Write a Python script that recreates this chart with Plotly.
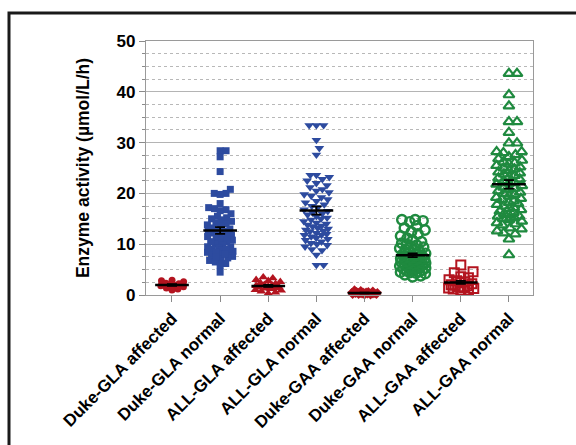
import math
import plotly.graph_objects as go

categories = ["Duke-GLA affected", "Duke-GLA normal", "ALL-GLA affected", "ALL-GLA normal",
              "Duke-GAA affected", "Duke-GAA normal", "ALL-GAA affected", "ALL-GAA normal"]

duke_gla_affected = [2.9, 2.8, 2.6, 2.3, 2.2, 2.0, 1.9, 1.8, 1.6, 1.4, 1.2, 1.0]
duke_gla_normal = [28.4, 28.4, 27.2, 24.3, 20.8, 20.0, 20.0, 19.8, 18.0, 17.2, 17.0, 16.8, 16.6, 16.0,
                   15.5, 15.2, 15.0, 14.8, 14.5, 14.2, 14.0, 13.8, 13.5, 13.2, 13.0, 12.8, 12.5, 12.2,
                   12.0, 11.8, 11.5, 11.2, 11.0, 10.8, 10.5, 10.2, 10.0, 9.8, 9.5, 9.3, 9.0, 8.8, 8.6,
                   8.4, 8.2, 8.0, 7.8, 7.6, 7.3, 7.0, 6.8, 6.5, 6.2, 5.8, 4.5,
                   8.5, 9.0, 7.5, 8.0, 9.5, 10.5, 11.5, 12.5]
all_gla_affected = [3.5, 3.3, 3.0, 2.8, 2.6, 2.4, 2.2, 2.0, 1.9, 1.8, 1.7, 1.6, 1.5, 1.4, 1.3,
                    1.2, 1.0, 0.9, 0.7, 0.5, 0.3]
all_gla_normal = [33.4, 33.4, 33.4, 30.5, 28.9, 27.6, 23.6, 23.6, 23.2, 22.8, 22.5, 22.0, 21.6, 21.2,
                  20.8, 20.5, 20.2, 19.8, 19.5, 19.2, 18.8, 18.5, 18.2, 17.8, 17.5, 17.2, 16.8, 16.5,
                  16.2, 15.8, 15.5, 15.2, 14.8, 14.5, 14.2, 13.8, 13.5, 13.2, 12.8, 12.5, 12.2, 11.8,
                  11.5, 11.0, 10.5, 10.0, 9.5, 7.9, 5.9, 5.9,
                  10.2, 11.2, 12.0, 13.0, 14.0, 15.0, 9.0, 8.8, 10.8, 11.8, 12.6, 13.6, 9.8, 16.0]
duke_gaa_affected = [1.0, 0.9, 0.8, 0.7, 0.7, 0.6, 0.6, 0.5, 0.5, 0.5, 0.4, 0.4, 0.4, 0.3, 0.3,
                     0.3, 0.3, 0.2, 0.2, 0.2, 0.1, 0.1, 0.1, 0.0, 0.0]
duke_gaa_normal = [14.8, 14.8, 14.6, 14.4, 13.6, 13.2, 12.8, 12.4, 12.0, 11.6, 11.2, 10.8, 10.5, 10.2,
                   10.0, 9.8, 9.6, 9.4, 9.2, 9.0, 8.8, 8.6, 8.4, 8.2, 8.0, 7.9, 7.8, 7.7, 7.6, 7.5,
                   7.4, 7.3, 7.2, 7.1, 7.0, 6.9, 6.8, 6.7, 6.6, 6.5, 6.4, 6.3, 6.2, 6.1, 6.0, 5.9,
                   5.8, 5.7, 5.6, 5.5, 5.4, 5.3, 5.2, 5.1, 5.0, 4.9, 4.8, 4.7, 4.6, 4.5, 4.4, 4.3,
                   4.2, 4.0, 3.8, 3.6]
all_gaa_affected = [5.9, 4.6, 4.4, 3.6, 3.4, 3.0, 2.8, 2.6, 2.4, 2.2, 2.0, 1.9, 1.8, 1.6, 1.5,
                    1.4, 1.2, 1.0, 1.0, 1.3]
all_gaa_normal = [43.6, 43.6, 39.4, 37.2, 34.1, 34.1, 32.0, 29.9, 29.9, 28.2, 28.2, 28.0,
                  27.6, 27.2, 26.8, 26.5, 26.2, 25.8, 25.5, 25.2, 24.8, 24.5, 24.2, 23.8, 23.5,
                  23.2, 22.8, 22.5, 22.2, 21.8, 21.5, 21.2, 20.8, 20.5, 20.2, 19.8, 19.5, 19.2,
                  18.8, 18.5, 18.2, 17.8, 17.5, 17.2, 16.8, 16.5, 16.2, 15.8, 15.5, 15.2, 14.8,
                  14.5, 14.2, 13.8, 13.2, 12.6, 12.2, 11.0, 7.9,
                  22.0, 21.0, 20.0, 19.0, 18.0, 17.0, 24.0, 25.0, 16.0, 15.0, 23.0, 26.0,
                  13.0, 14.0, 12.0, 15.5]

groups = [duke_gla_affected, duke_gla_normal, all_gla_affected, all_gla_normal,
          duke_gaa_affected, duke_gaa_normal, all_gaa_affected, all_gaa_normal]

RED = "#b3141f"
BLUE = "#2d4b9f"
GREEN = "#1f8a3f"
styles = [
    dict(symbol="circle", size=7, color=RED, line=dict(width=0)),
    dict(symbol="square", size=7, color=BLUE, line=dict(width=0)),
    dict(symbol="triangle-up", size=8.5, color=RED, line=dict(width=0)),
    dict(symbol="triangle-down", size=8.5, color=BLUE, line=dict(width=0)),
    dict(symbol="diamond", size=7, color=RED, line=dict(width=0)),
    dict(symbol="circle-open", size=9.5, color=GREEN, line=dict(width=2.4)),
    dict(symbol="square-open", size=9, color=RED, line=dict(width=2)),
    dict(symbol="triangle-up-open", size=9.5, color=GREEN, line=dict(width=2.2)),
]

W, H = 576, 445
ML, MR, MT, MB = 146, 43, 41, 150
XR = [-0.54, 7.5]
YR = [0, 50]
pw, ph = W - ML - MR, H - MT - MB
px_cat = pw / (XR[1] - XR[0])
px_val = ph / (YR[1] - YR[0])


def swarm(values, diam, maxhalf):
    order = sorted(range(len(values)), key=lambda i: values[i])
    placed = []
    offs = [0.0] * len(values)
    for i in order:
        y = values[i] * px_val
        d = diam
        while True:
            cands = [0.0]
            near = []
            for (px, py) in placed:
                dy = abs(py - y)
                if dy < d:
                    dx = math.sqrt(d * d - dy * dy)
                    near.append((px, py))
                    cands += [px + dx + 1e-6, px - dx - 1e-6]
            cands.sort(key=lambda c: (abs(c), -c))
            chosen = None
            for c in cands:
                if abs(c) > maxhalf:
                    continue
                ok = all((c - px) ** 2 + (y - py) ** 2 >= (d - 1e-3) ** 2 for (px, py) in near)
                if ok:
                    chosen = c
                    break
            if chosen is not None:
                break
            d *= 0.85
        placed.append((chosen, y))
        offs[i] = chosen / px_cat
    return offs


fig = go.Figure()
for k, vals in enumerate(groups):
    st = styles[k]
    offs = swarm(vals, st["size"] * 0.85, 13)
    fig.add_trace(go.Scatter(
        x=[k + o for o in offs], y=vals, mode="markers",
        marker=dict(symbol=st["symbol"], size=st["size"], color=st["color"], line=st["line"]),
        cliponaxis=False, showlegend=False, hoverinfo="y"))

for k, vals in enumerate(groups):
    n = len(vals)
    m = sum(vals) / n
    sd = math.sqrt(sum((v - m) ** 2 for v in vals) / (n - 1))
    sem = sd / math.sqrt(n)
    fig.add_trace(go.Scatter(x=[k - 0.35, k + 0.35], y=[m, m], mode="lines",
                             line=dict(color="black", width=2.5), cliponaxis=False,
                             showlegend=False, hoverinfo="skip"))
    fig.add_trace(go.Scatter(x=[k], y=[m], mode="markers", marker=dict(size=1, color="rgba(0,0,0,0)"),
                             error_y=dict(type="data", array=[sem], color="black", thickness=1.8, width=5),
                             cliponaxis=False, showlegend=False, hoverinfo="skip"))

font_family = "Liberation Sans, Arial, sans-serif"

# outer frame of the figure
fx0 = (9 - ML) / pw
fy1 = (H - MB - 13) / ph
fig.add_shape(type="rect", xref="paper", yref="paper", x0=fx0, x1=(W + 40 - ML) / pw,
              y0=-(MB + 40) / ph, y1=fy1, line=dict(color="#1a1a1a", width=3), layer="below")

fig.update_layout(
    width=W, height=H, margin=dict(l=ML, r=MR, t=MT, b=MB, autoexpand=False),
    paper_bgcolor="white", plot_bgcolor="white",
    font=dict(family=font_family, color="black"),
    xaxis=dict(range=XR, tickmode="array", tickvals=list(range(8)), ticktext=categories,
               tickangle=-45, tickfont=dict(size=17, weight="bold", color="black"),
               ticks="outside", ticklen=6, tickcolor="#8a8a8a", tickwidth=1,
               showline=True, linecolor="#9a9a9a", linewidth=1.2, mirror=True,
               showgrid=False, zeroline=False, automargin=False),
    yaxis=dict(range=YR, tickmode="linear", tick0=0, dtick=10,
               tickfont=dict(size=17, weight="bold", color="black"),
               ticks="outside", ticklen=6, tickcolor="#8a8a8a", tickwidth=1,
               showline=True, linecolor="#9a9a9a", linewidth=1.2, mirror=True,
               showgrid=True, gridcolor="#b4b4b4", gridwidth=1, zeroline=False,
               automargin=False,
               minor=dict(dtick=2.5, showgrid=True, gridcolor="#b8b8b8", griddash="dot",
                          gridwidth=1, ticks="outside", ticklen=3, tickcolor="#8a8a8a"),
               title=dict(text="Enzyme activity (µmol/L/h)",
                          font=dict(size=17.5, weight="bold", color="black"), standoff=22)),
)

fig.write_html("out.html", config={"displayModeBar": False},
               post_script="document.body.style.margin='0px';")
